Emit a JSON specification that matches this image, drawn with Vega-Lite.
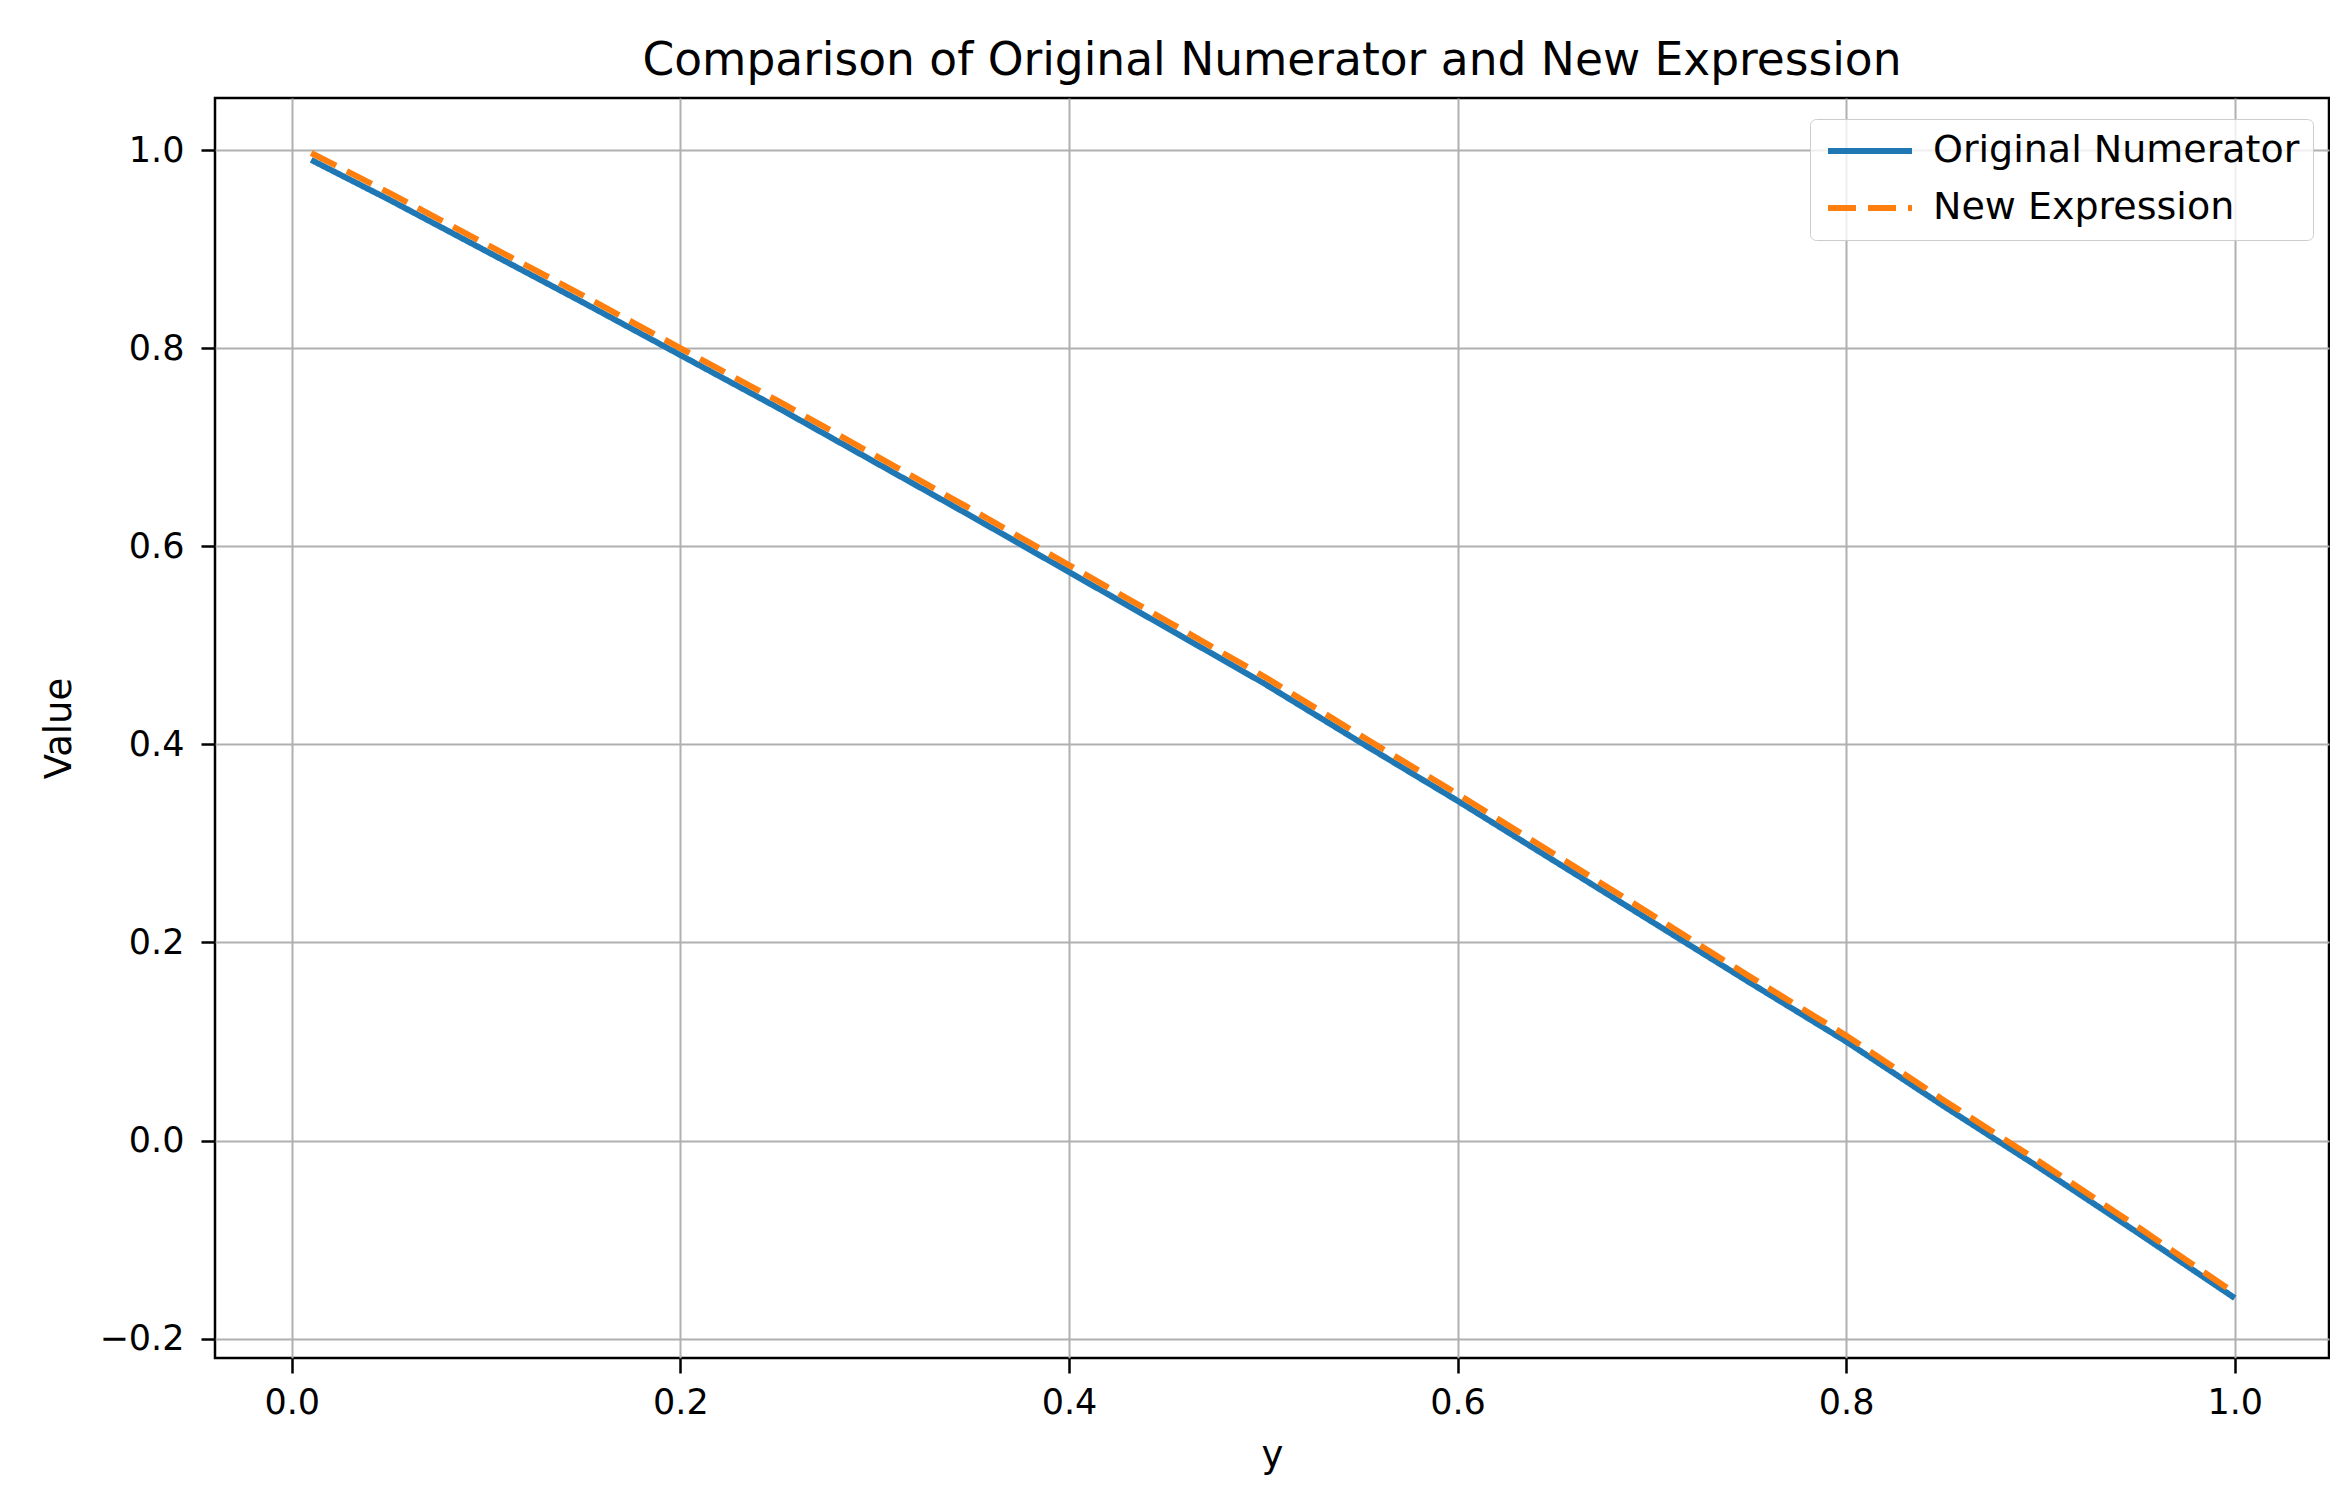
{
  "$schema": "https://vega.github.io/schema/vega-lite/v6.json",
  "width": 2114,
  "height": 1260,
  "autosize": {"type": "none"},
  "padding": {"left": 215, "top": 98, "right": 1, "bottom": 132},
  "background": "white",
  "title": {
    "text": "Comparison of Original Numerator and New Expression",
    "font": "DejaVu Sans",
    "fontSize": 45.5,
    "fontWeight": "normal",
    "color": "black",
    "anchor": "middle",
    "frame": "group",
    "baseline": "alphabetic",
    "offset": -22
  },
  "data": {
    "values": [
      {"series": "Original Numerator", "y": 0.01, "value": 0.990},
      {"series": "Original Numerator", "y": 0.05, "value": 0.950},
      {"series": "Original Numerator", "y": 0.10, "value": 0.898},
      {"series": "Original Numerator", "y": 0.15, "value": 0.846},
      {"series": "Original Numerator", "y": 0.20, "value": 0.793},
      {"series": "Original Numerator", "y": 0.25, "value": 0.740},
      {"series": "Original Numerator", "y": 0.30, "value": 0.685},
      {"series": "Original Numerator", "y": 0.35, "value": 0.630},
      {"series": "Original Numerator", "y": 0.40, "value": 0.574},
      {"series": "Original Numerator", "y": 0.45, "value": 0.518},
      {"series": "Original Numerator", "y": 0.50, "value": 0.462},
      {"series": "Original Numerator", "y": 0.55, "value": 0.402},
      {"series": "Original Numerator", "y": 0.60, "value": 0.343},
      {"series": "Original Numerator", "y": 0.65, "value": 0.282},
      {"series": "Original Numerator", "y": 0.70, "value": 0.221},
      {"series": "Original Numerator", "y": 0.75, "value": 0.160},
      {"series": "Original Numerator", "y": 0.80, "value": 0.100},
      {"series": "Original Numerator", "y": 0.85, "value": 0.035},
      {"series": "Original Numerator", "y": 0.90, "value": -0.028},
      {"series": "Original Numerator", "y": 0.95, "value": -0.093},
      {"series": "Original Numerator", "y": 1.00, "value": -0.159},
      {"series": "New Expression", "y": 0.01, "value": 0.997},
      {"series": "New Expression", "y": 0.05, "value": 0.957},
      {"series": "New Expression", "y": 0.10, "value": 0.905},
      {"series": "New Expression", "y": 0.15, "value": 0.853},
      {"series": "New Expression", "y": 0.20, "value": 0.800},
      {"series": "New Expression", "y": 0.25, "value": 0.747},
      {"series": "New Expression", "y": 0.30, "value": 0.692},
      {"series": "New Expression", "y": 0.35, "value": 0.637},
      {"series": "New Expression", "y": 0.40, "value": 0.581},
      {"series": "New Expression", "y": 0.45, "value": 0.525},
      {"series": "New Expression", "y": 0.50, "value": 0.469},
      {"series": "New Expression", "y": 0.55, "value": 0.409},
      {"series": "New Expression", "y": 0.60, "value": 0.350},
      {"series": "New Expression", "y": 0.65, "value": 0.289},
      {"series": "New Expression", "y": 0.70, "value": 0.228},
      {"series": "New Expression", "y": 0.75, "value": 0.166},
      {"series": "New Expression", "y": 0.80, "value": 0.106},
      {"series": "New Expression", "y": 0.85, "value": 0.041},
      {"series": "New Expression", "y": 0.90, "value": -0.022},
      {"series": "New Expression", "y": 0.95, "value": -0.087},
      {"series": "New Expression", "y": 1.00, "value": -0.154}
    ]
  },
  "mark": {"type": "line", "strokeWidth": 6, "strokeCap": "butt", "clip": true},
  "encoding": {
    "x": {
      "field": "y",
      "type": "quantitative",
      "scale": {"domain": [-0.0395, 1.0485], "nice": false, "zero": false},
      "axis": {
        "title": "y",
        "values": [0, 0.2, 0.4, 0.6, 0.8, 1.0],
        "format": ".1f",
        "titleX": 1057,
        "titleY": 108,
        "titleBaseline": "alphabetic",
        "titleAnchor": "middle",
        "titleAlign": "center"
      }
    },
    "y": {
      "field": "value",
      "type": "quantitative",
      "scale": {"domain": [-0.2195, 1.0525], "nice": false, "zero": false},
      "axis": {
        "title": "Value",
        "values": [-0.2, 0, 0.2, 0.4, 0.6, 0.8, 1.0],
        "format": ".1f",
        "titleX": -145,
        "titleY": 630,
        "titleBaseline": "alphabetic",
        "titleAlign": "center",
        "labelPadding": 17,
        "tickSize": 14
      }
    },
    "color": {
      "field": "series",
      "type": "nominal",
      "scale": {"domain": ["Original Numerator", "New Expression"], "range": ["#1f77b4", "#ff7f0e"]},
      "legend": {
        "title": null,
        "orient": "none",
        "legendX": 1595,
        "legendY": 21,
        "symbolType": "M-1,0H5",
        "symbolSize": 784,
        "symbolStrokeWidth": 6,
        "labelFontSize": 38,
        "labelFont": "DejaVu Sans",
        "labelColor": "black",
        "labelLimit": 800,
        "labelOffset": 72,
        "padding": 13,
        "rowPadding": 19,
        "fillColor": "rgba(255,255,255,0.8)",
        "strokeColor": "#cccccc",
        "cornerRadius": 6
      }
    },
    "strokeDash": {
      "field": "series",
      "type": "nominal",
      "scale": {"domain": ["Original Numerator", "New Expression"], "range": [[1, 0], [28, 12]]},
      "legend": {
        "title": null,
        "orient": "none",
        "legendX": 1595,
        "legendY": 21,
        "symbolType": "M-1,0H5",
        "symbolSize": 784,
        "symbolStrokeWidth": 6,
        "labelFontSize": 38,
        "labelFont": "DejaVu Sans",
        "labelColor": "black",
        "labelLimit": 800,
        "labelOffset": 72,
        "padding": 13,
        "rowPadding": 19,
        "fillColor": "rgba(255,255,255,0.8)",
        "strokeColor": "#cccccc",
        "cornerRadius": 6
      }
    }
  },
  "config": {
    "font": "DejaVu Sans",
    "view": {"stroke": "black", "strokeWidth": 2.5},
    "axis": {
      "labelFont": "DejaVu Sans",
      "labelFontSize": 35,
      "labelColor": "black",
      "titleFont": "DejaVu Sans",
      "titleFontSize": 37,
      "titleFontWeight": "normal",
      "titleColor": "black",
      "domain": false,
      "ticks": true,
      "tickColor": "black",
      "tickWidth": 2.5,
      "tickSize": 15,
      "labelPadding": 12,
      "grid": true,
      "gridColor": "#b0b0b0",
      "gridWidth": 2,
      "labelFlush": false,
      "labelOverlap": false
    }
  }
}
